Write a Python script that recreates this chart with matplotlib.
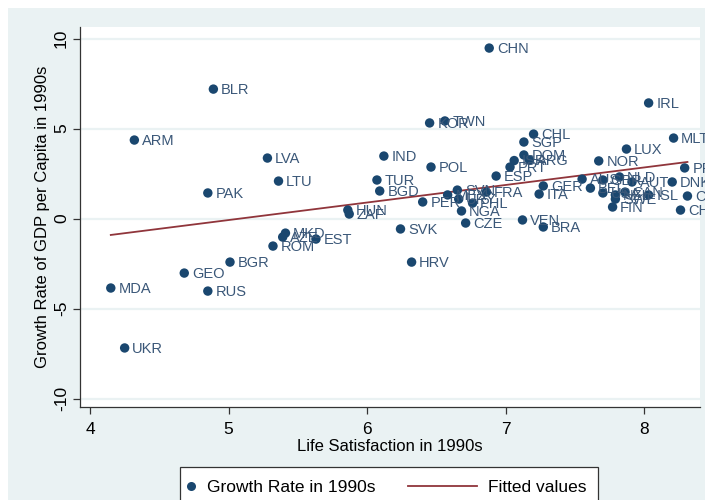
"""
Life satisfaction vs. GDP growth in the 1990s (Stata-style scatter with fit line)
"""

import numpy as np
import matplotlib
matplotlib.use("Agg")
import matplotlib.pyplot as plt
from matplotlib.lines import Line2D
from matplotlib.patches import Rectangle

NAVY   = '#1a476f'
LABEL  = '#3a5778'
MAROON = '#90353b'
BG     = '#eaf2f3'

# -----------------------------------------------------------------------------
# data
# -----------------------------------------------------------------------------
countries = ['CHN', 'BLR', 'IRL', 'TWN', 'KOR', 'ARM', 'MLT', 'CHL', 'SGP', 'LUX',
             'IND', 'LVA', 'DOM', 'NOR', 'ARG', 'ISR', 'PRT', 'POL', 'ESP', 'PRI',
             'LTU', 'TUR', 'BGD', 'PAK', 'DNK', 'AUT', 'NLD', 'AUS', 'BEL', 'GBR',
             'USA', 'NZL', 'CAN', 'SWE', 'ISL', 'FIN', 'COL', 'CHE', 'GER', 'ITA',
             'VEN', 'BRA', 'SVN', 'MEX', 'URY', 'PHL', 'NGA', 'CZE', 'PER', 'FRA',
             'HUN', 'ZAF', 'MKD', 'AZE', 'EST', 'ROM', 'BGR', 'GEO', 'MDA', 'RUS',
             'UKR', 'SVK', 'HRV']

life_sat = [6.88, 4.89, 8.03, 6.56, 6.45, 4.32, 8.21, 7.20, 7.13, 7.87,
            6.12, 5.28, 7.13, 7.67, 7.17, 7.06, 7.03, 6.46, 6.93, 8.29,
            5.36, 6.07, 6.09, 4.85, 8.20, 7.91, 7.82, 7.55, 7.61, 7.70,
            7.70, 7.79, 7.86, 7.79, 8.03, 7.77, 8.31, 8.26, 7.27, 7.24,
            7.12, 7.27, 6.65, 6.58, 6.66, 6.76, 6.68, 6.71, 6.40, 6.86,
            5.86, 5.87, 5.41, 5.39, 5.63, 5.32, 5.01, 4.68, 4.15, 4.85,
            4.25, 6.24, 6.32]

growth = [9.47, 7.19, 6.42, 5.42, 5.31, 4.36, 4.47, 4.69, 4.25, 3.86,
          3.47, 3.36, 3.53, 3.20, 3.25, 3.22, 2.86, 2.86, 2.36, 2.81,
          2.08, 2.14, 1.53, 1.42, 2.03, 2.03, 2.31, 2.19, 1.69, 2.14,
          1.42, 1.31, 1.47, 1.08, 1.31, 0.64, 1.25, 0.47, 1.81, 1.36,
          -0.08, -0.47, 1.58, 1.31, 1.08, 0.86, 0.42, -0.25, 0.92, 1.47,
          0.47, 0.25, -0.81, -1.03, -1.14, -1.53, -2.42, -3.03, -3.86, -4.03,
          -7.19, -0.58, -2.42]

x_ticks = [4, 5, 6, 7, 8]
y_ticks = [-10, -5, 0, 5, 10]

# -----------------------------------------------------------------------------
# figure
# -----------------------------------------------------------------------------
plt.rcParams['font.family'] = ['Liberation Sans', 'DejaVu Sans']

fig = plt.figure(figsize=(7.05, 5.0), dpi=100, facecolor=BG)
# thin white margin at top / left like the screenshot
fig.add_artist(Rectangle((0, 0.984), 1, 0.016, transform=fig.transFigure,
                         facecolor='white', edgecolor='none', zorder=-5))
fig.add_artist(Rectangle((0, 0), 0.011, 1, transform=fig.transFigure,
                         facecolor='white', edgecolor='none', zorder=-5))

ax = fig.add_axes([0.1135, 0.186, 0.8795, 0.76])
ax.set_facecolor('white')

x = np.array(life_sat)
y = np.array(growth)

# fitted values (OLS over the data range)
slope, intercept = np.polyfit(x, y, 1)
xf = np.array([x.min(), x.max()])
ax.plot(xf, intercept + slope * xf, color=MAROON, linewidth=1.3, zorder=2)

ax.scatter(x, y, s=46, color=NAVY, edgecolors='none', zorder=3)
for c, xi, yi in zip(countries, x, y):
    ax.annotate(c, (xi, yi), xytext=(5.5, -0.5), textcoords='offset points',
                va='center', ha='left', fontsize=10.5, color=LABEL, zorder=4,
                annotation_clip=False)

ax.set_xlim(3.928, 8.401)
ax.set_ylim(-10.47, 10.64)
ax.set_xticks(x_ticks)
ax.set_yticks(y_ticks)
ax.set_yticklabels([str(v) for v in y_ticks], rotation=90, va='center')
ax.tick_params(axis='both', labelsize=12.5, length=5, width=0.9, color='#333333',
               labelcolor='black')
ax.tick_params(axis='y', pad=3)
ax.tick_params(axis='x', pad=6)

ax.grid(True, axis='y', color=BG, linewidth=1.6)
ax.set_axisbelow(True)
for side in ['top', 'right']:
    ax.spines[side].set_visible(False)
for side in ['left', 'bottom']:
    ax.spines[side].set_color('#333333')
    ax.spines[side].set_linewidth(0.9)

ax.set_xlabel('Life Satisfaction in 1990s', fontsize=12, labelpad=1)
ax.set_ylabel('Growth Rate of GDP per Capita in 1990s', fontsize=12, labelpad=3)

# legend: framed box with two entries at the bottom
fig.add_artist(Rectangle((180 / 705, -0.02), 418 / 705, 0.086,
                         transform=fig.transFigure, facecolor='white',
                         edgecolor='#333333', linewidth=0.9))
dot = Line2D([], [], marker='o', linestyle='none', markersize=6.5,
             markerfacecolor=NAVY, markeredgecolor='none')
fit = Line2D([], [], color=MAROON, linewidth=1.3)
leg1 = fig.legend([dot], ['Growth Rate in 1990s'], loc='center left',
                  bbox_to_anchor=(184 / 705, 0.026), frameon=False,
                  fontsize=12.5, handlelength=0.8, handletextpad=0.5,
                  borderpad=0, borderaxespad=0)
leg2 = fig.legend([fit], ['Fitted values'], loc='center left',
                  bbox_to_anchor=(408 / 705, 0.026), frameon=False,
                  fontsize=12.5, handlelength=4.0, handletextpad=0.6,
                  borderpad=0, borderaxespad=0)

fig.savefig('out.png', dpi=100, facecolor=BG)
